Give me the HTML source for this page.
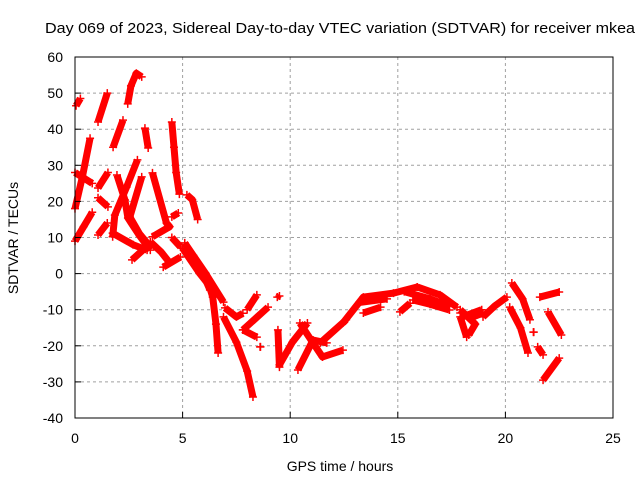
<!DOCTYPE html>
<html><head><meta charset="utf-8"><style>
body{margin:0;background:#fff;}
svg{display:block;font-family:"Liberation Sans",sans-serif;}
</style></head><body>
<svg id="chart" width="640" height="480" viewBox="0 0 640 480">
<rect width="640" height="480" fill="#fff"/>
<text x="340" y="33" font-size="15" text-anchor="middle" textLength="590" lengthAdjust="spacingAndGlyphs">Day 069 of 2023, Sidereal Day-to-day VTEC variation (SDTVAR) for receiver mkea</text>
<text x="340" y="471" font-size="14" text-anchor="middle">GPS time / hours</text>
<text transform="translate(18,238) rotate(-90)" font-size="14" text-anchor="middle">SDTVAR / TECUs</text>
<g id="grid"></g><g id="marks"></g><g id="axes"></g>
</svg>
<script>
const xTicks=[0,5,10,15,20,25];
const yTicks=[-40,-30,-20,-10,0,10,20,30,40,50,60];
const tracks=[
[[0.05,46.5],[0.25,48.5]],
[[1.07,42],[1.5,50]],
[[2.45,47],[2.6,52],[2.85,55.5],[3.1,54.5]],
[[1.77,35],[2.23,42.5]],
[[3.25,40.3],[3.4,34.8]],
[[4.5,42],[4.6,35],[4.7,28],[4.85,22]],
[[5.2,21.8],[5.45,20.5],[5.7,15]],
[[0,18],[0.35,27],[0.7,37.5]],
[[0,28],[0.4,26.5],[0.8,25]],
[[0,9],[0.4,13],[0.8,17]],
[[1.07,23.7],[1.53,28]],
[[1.07,21],[1.53,18.5]],
[[1.07,10.7],[1.5,14]],
[[1.95,27.3],[2.32,20.4],[2.46,15.4],[3.0,10.5],[3.5,6.5]],
[[2.9,31.5],[2.4,24],[1.85,16.2],[1.75,10.2]],
[[3.1,26.8],[2.55,15.7],[3.0,11],[3.5,7.4]],
[[1.75,11.2],[2.7,8],[3.35,6.5]],
[[2.65,3.8],[3.15,6.5]],
[[3.6,27.9],[4.25,14],[4.4,13],[3.6,10.2]],
[[3.5,8.8],[4.0,6],[4.4,3]],
[[4.1,1.8],[4.9,4.6]],
[[4.5,15.7],[4.8,16.8]],
[[4.5,10],[4.9,7.4]],
[[5.1,8.5],[5.5,5],[6.05,0.2],[6.4,-6.5],[6.55,-14],[6.65,-22]],
[[5.3,6],[5.8,2],[6.27,-4.5]],
[[5.0,7],[5.8,0],[6.2,-3]],
[[6.05,0.2],[6.9,-7.9]],
[[6.9,-12],[7.5,-19],[8.0,-27],[8.27,-34.2]],
[[6.97,-9.5],[7.5,-12],[7.8,-11]],
[[8.0,-10],[8.45,-5.9]],
[[7.8,-15.6],[8.45,-17.6]],
[[7.8,-15.6],[8.97,-9.3]],
[[8.6,-20.3],[8.62,-20.3]],
[[9.4,-6.5],[9.5,-6.2]],
[[9.43,-15.6],[9.5,-25.9]],
[[9.5,-25.3],[10.1,-19],[10.8,-13.7]],
[[10.36,-26.7],[11.06,-18.4],[11.7,-19.2]],
[[10.45,-13.7],[11.06,-19.2],[11.5,-23.1],[12.45,-21.2]],
[[11.4,-19.2],[12.0,-16],[12.6,-12.8]],
[[12.45,-13.7],[13.4,-6.5],[14.8,-5.4],[15.9,-3.7]],
[[13.2,-8],[14.5,-7]],
[[13.4,-10.9],[14.2,-9.3]],
[[15.1,-10.6],[15.57,-8.2]],
[[15.7,-7.3],[16.5,-8.5],[17.4,-10.1]],
[[15.3,-5],[16.5,-7],[17.4,-9]],
[[15.9,-3.7],[16.96,-5.9],[17.75,-9.3]],
[[17.9,-10.9],[18.5,-12],[18.96,-10.9]],
[[17.9,-10],[18.6,-14],[18.3,-17]],
[[18,-12],[18.9,-10]],
[[17.9,-12],[18.2,-17.6]],
[[18.96,-12],[19.5,-9],[20.07,-6.5]],
[[20.3,-2.6],[20.8,-7],[21.14,-12.8]],
[[20.2,-9.3],[20.7,-15],[21.05,-22]],
[[21.6,-6.5],[22.5,-5.1]],
[[21.98,-10.6],[22.6,-17]],
[[21.5,-20.3],[21.75,-22.5]],
[[21.75,-29.5],[22.5,-23.4]],
[[21.3,-16.2],[21.32,-16.2]]
];
const X0=75,X1=613,Y0=418,Y1=57;
const xs=v=>X0+(v-0)/(25-0)*(X1-X0);
const ys=v=>Y0-(v+40)/(100)*(Y0-Y1);
const NS="http://www.w3.org/2000/svg";
function mk(t,a,p){const e=document.createElementNS(NS,t);for(const k in a)e.setAttribute(k,a[k]);p.appendChild(e);return e;}
const grid=document.getElementById('grid'),axes=document.getElementById('axes'),marks=document.getElementById('marks');
xTicks.forEach(t=>{
 const x=xs(t);
 if(t>0&&t<25){const g=mk('line',{x1:x,x2:x,y1:Y1,y2:Y0,stroke:'#a0a0a0','stroke-dasharray':'3,3'},grid);
 
 }
 const tk=mk('line',{x1:x,x2:x,y1:Y0,y2:Y0-6,stroke:'#000'},axes);
 
 
 const tx=mk('text',{x:x,y:443,'font-size':14,'text-anchor':'middle'},axes);tx.textContent=t;
 
 
});
yTicks.forEach(t=>{
 const y=ys(t);
 if(t>-40&&t<60){const g=mk('line',{x1:X0,x2:X1,y1:y,y2:y,stroke:'#a0a0a0','stroke-dasharray':'3,3'},grid);
 
 }
 const tk=mk('line',{x1:X0,x2:X0+6,y1:y,y2:y,stroke:'#000'},axes);
 
 
 const tx=mk('text',{x:63,y:y+5,'font-size':14,'text-anchor':'end'},axes);tx.textContent=t;
 
 
});
const fr=mk('rect',{x:X0,y:Y1,width:X1-X0,height:Y0-Y1,fill:'none',stroke:'#000'},axes);


tracks.forEach(tr=>{
 const pl=mk('polyline',{points:tr.map(p=>xs(p[0])+','+ys(p[1])).join(' '),fill:'none',stroke:'#f00','stroke-width':7,'stroke-linejoin':'round'},marks);
 
 
 tr.forEach(p=>{
  const x=xs(p[0]),y=ys(p[1]);
  const m=mk('path',{d:`M${x-4},${y}h8M${x},${y-4}v8`,stroke:'#f00','stroke-width':1.5},marks);
  
  
 });
});
</script>
</body></html>
